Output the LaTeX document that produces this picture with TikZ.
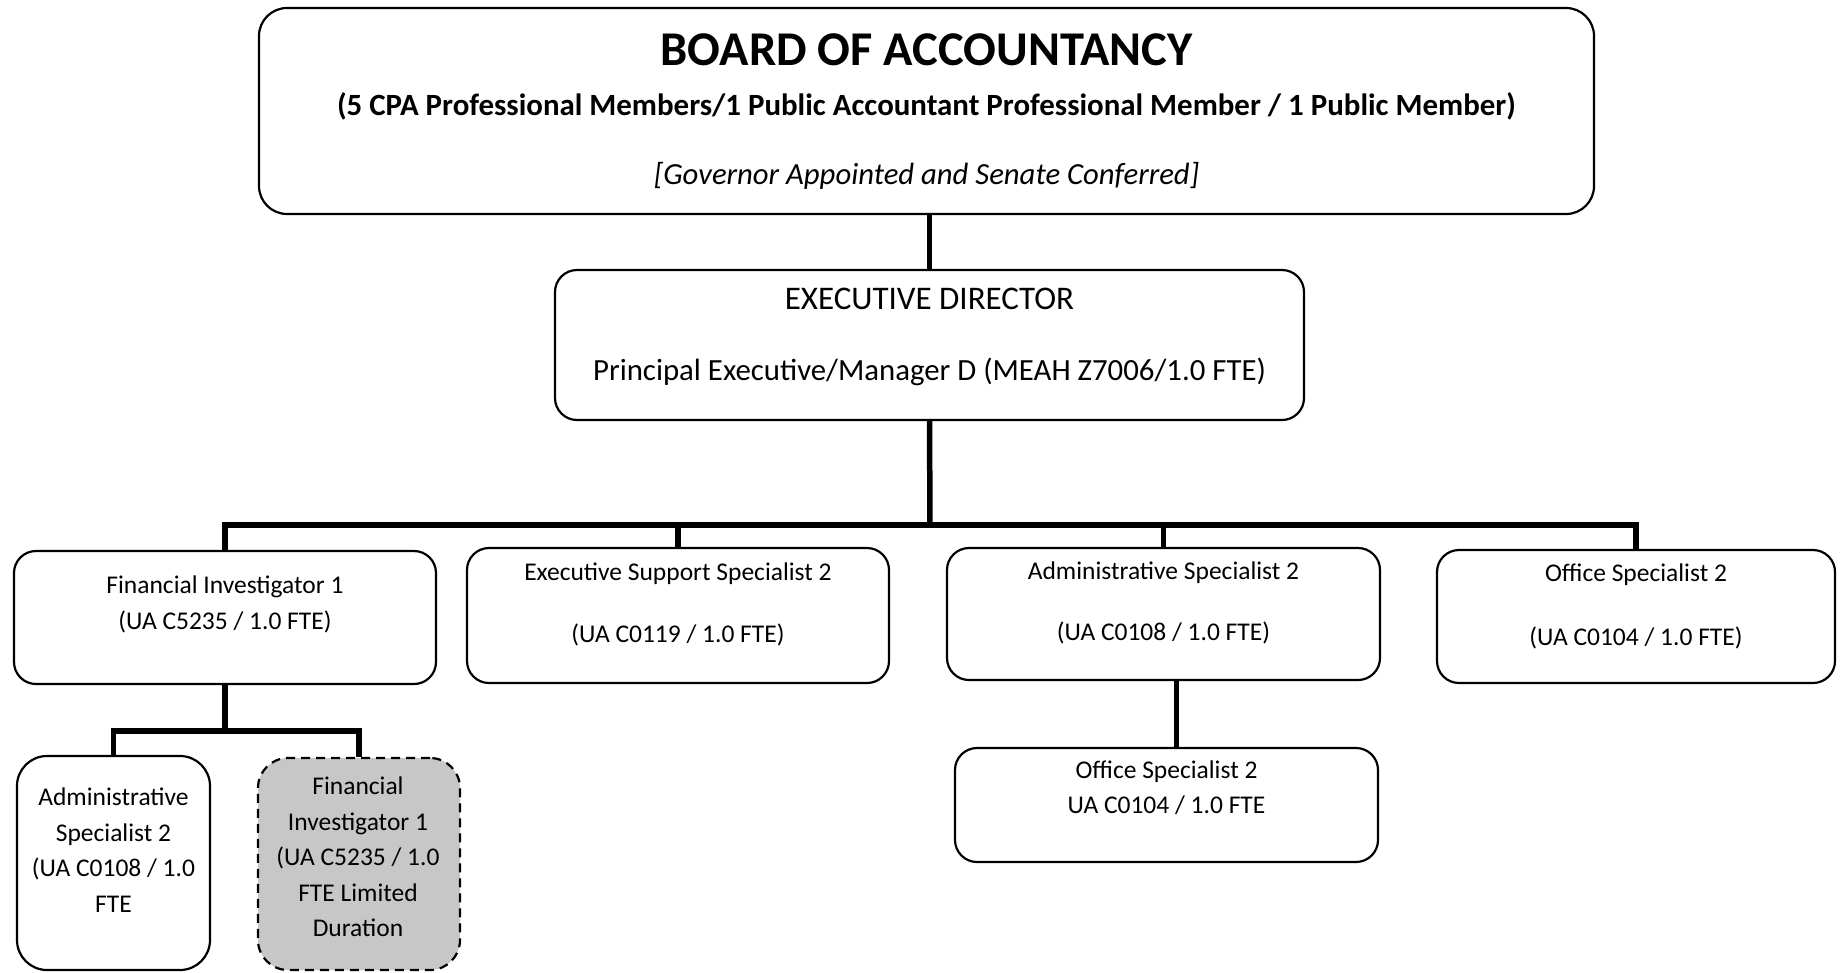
\documentclass[tikz,border=0pt]{standalone}
\usepackage{fontspec}
\setmainfont{Carlito}
\begin{document}
\begin{tikzpicture}[x=1pt,y=-1pt,
  box/.style={draw,line width=2.2pt,rounded corners=22pt,fill=white,inner sep=0pt},
  tempbox/.style={box,fill=black!22,dash pattern=on 9pt off 6pt},
  conn/.style={line width=5.5pt,line join=miter},
  txt/.style={align=center,inner sep=0pt,font=\fontsize{25.5}{35.5}\selectfont},
  exectxt/.style={align=center,inner sep=0pt,font=\fontsize{33}{40}\selectfont}]
\useasboundingbox (0,0) rectangle (1841,972);
% boxes
\node[box,rounded corners=28pt,minimum width=1335pt,minimum height=206pt] (board) at (926.5,111) {};
\node[box,minimum width=749pt,minimum height=150pt] (exec) at (929.5,345) {};
\node[box,minimum width=422pt,minimum height=133pt] (fi1) at (225,617.5) {};
\node[box,minimum width=422pt,minimum height=135pt] (ess2) at (678,615.5) {};
\node[box,minimum width=433pt,minimum height=132pt] (as2) at (1163.5,614) {};
\node[box,minimum width=398pt,minimum height=133pt] (os2) at (1636,616.5) {};
\node[box,minimum width=423pt,minimum height=114pt] (os2b) at (1166.5,805) {};
\node[box,rounded corners=30pt,minimum width=193pt,minimum height=214pt] (adm) at (113.5,863) {};
\node[tempbox,rounded corners=30pt,minimum width=202pt,minimum height=212pt] (fis) at (359,864) {};
% texts
\node[inner sep=0pt,font=\fontsize{48.5}{56}\selectfont\bfseries] (boardt) at (926.5,50) {BOARD OF ACCOUNTANCY};
\node[inner sep=0pt,font=\fontsize{30.9}{36}\selectfont\bfseries] (boards) at (926.5,106) {(5 CPA Professional Members/1 Public Accountant Professional Member / 1 Public Member)};
\node[inner sep=0pt,font=\fontsize{30.7}{36}\selectfont\itshape] (boardi) at (926.5,176) {[Governor Appointed and Senate Conferred]};
\node[exectxt] (exect1) at (929.5,299) {EXECUTIVE DIRECTOR};
\node[exectxt,font=\fontsize{30.8}{38}\selectfont] (exect2) at (929.5,372) {Principal Executive/Manager D (MEAH Z7006/1.0 FTE)};
\node[txt] (fi1t) at (225,604.5) {Financial Investigator 1\\(UA C5235 / 1.0 FTE)};
\node[txt] (ess2t) at (678,604) {Executive Support Specialist 2\\[26.5pt](UA C0119 / 1.0 FTE)};
\node[txt] (as2t) at (1163.5,602.5) {Administrative Specialist 2\\[25.5pt](UA C0108 / 1.0 FTE)};
\node[txt] (os2t) at (1636,606) {Office Specialist 2\\[28.5pt](UA C0104 / 1.0 FTE)};
\node[txt] (os2bt) at (1166.5,787.5) {Office Specialist 2\\UA C0104 / 1.0 FTE};
\node[txt] (admt) at (113.5,850) {Administrative\\Specialist 2\\(UA C0108 / 1.0\\FTE};
\node[txt] (fist) at (358,857) {Financial\\Investigator 1\\(UA C5235 / 1.0\\FTE Limited\\Duration};
% connectors
\coordinate (bus) at (930,525);
\coordinate (sbus) at (225,731);
\draw[line width=4.5pt] (exec.north |- board.south) -- (exec.north);
\draw[conn] (exec.south) -- (bus);
\draw[conn] (fi1.north) -- (fi1.north |- bus) -- (os2.north |- bus) -- (os2.north);
\draw[conn] (ess2.north) -- (ess2.north |- bus);
\draw[conn] (as2.north) -- (as2.north |- bus);
\draw[conn] (fi1.south) -- (sbus);
\draw[conn] (adm.north) -- (adm.north |- sbus) -- (fis.north |- sbus) -- (fis.north);
\draw[conn] ([xshift=13pt]as2.south) -- ([xshift=13pt]as2.south |- os2b.north);
\end{tikzpicture}
\end{document}
